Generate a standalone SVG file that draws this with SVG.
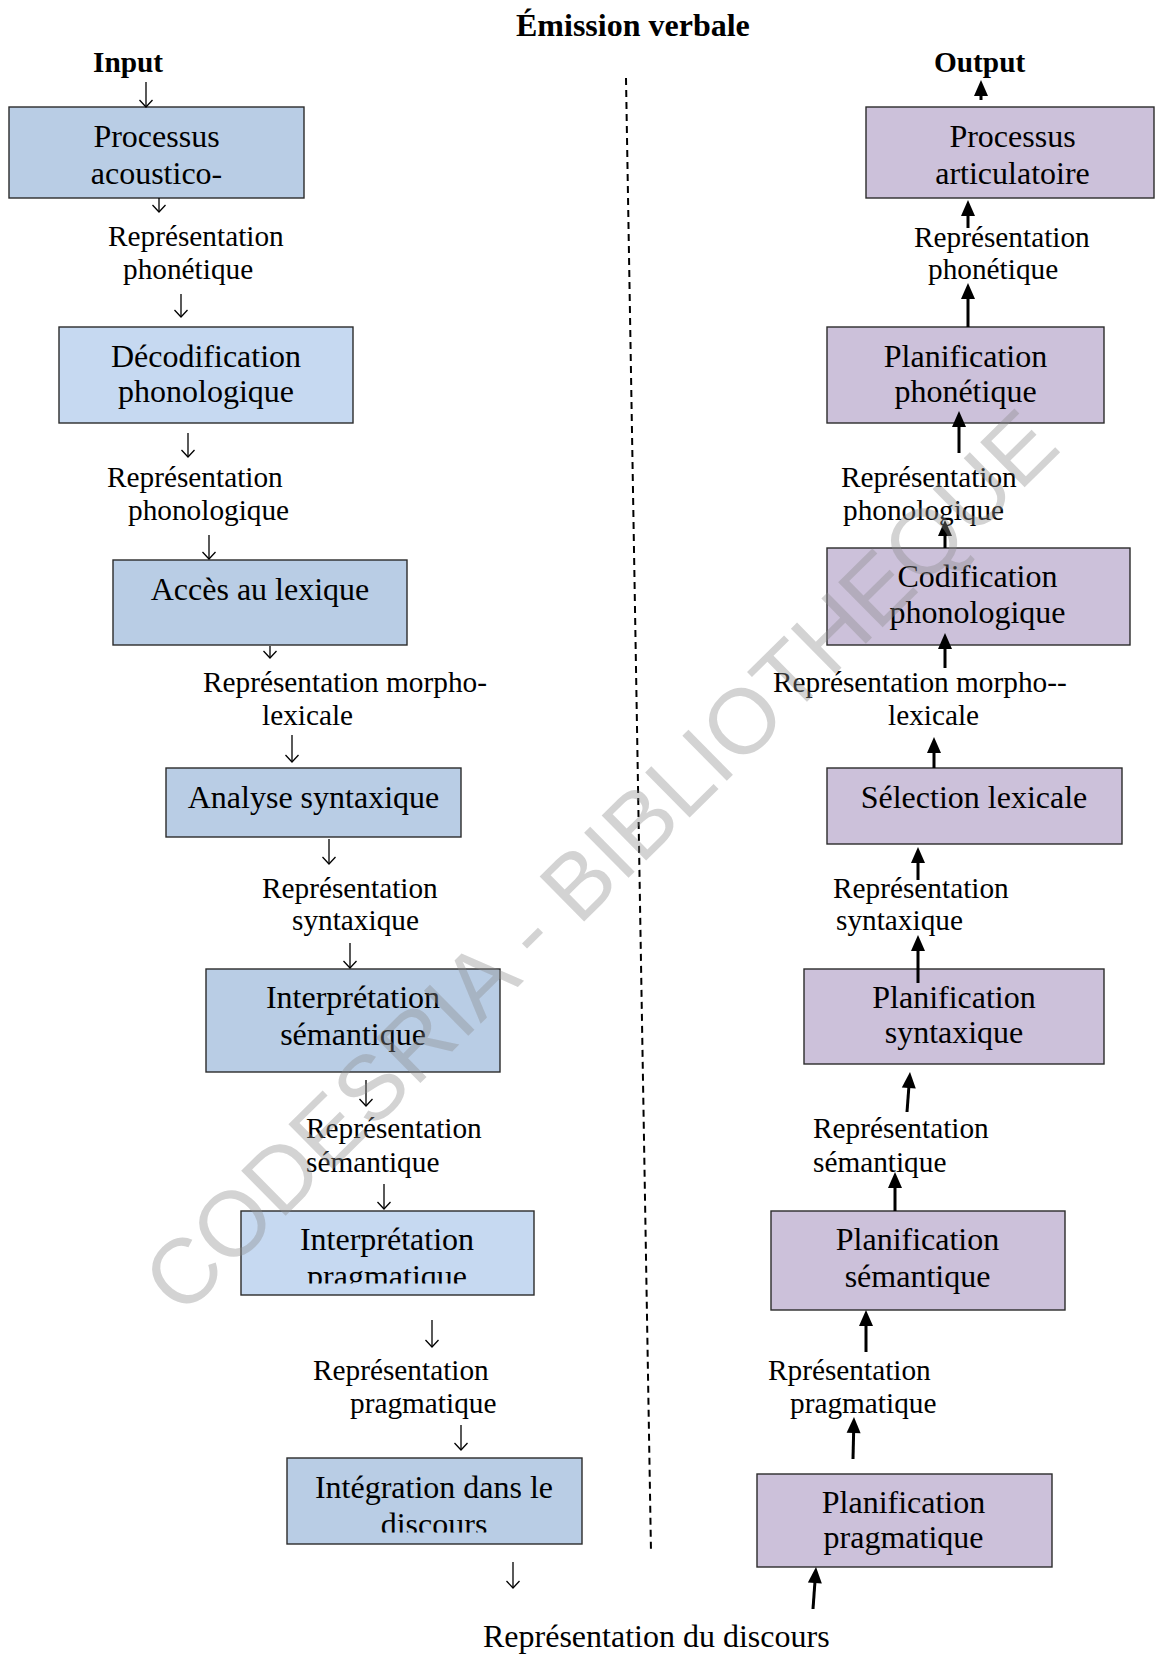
<svg xmlns="http://www.w3.org/2000/svg" width="1155" height="1655" viewBox="0 0 1155 1655">
<defs>
<style>
.t{font-family:"Liberation Serif","Times New Roman",serif;font-size:32px;fill:#000;text-anchor:middle}
.l{font-family:"Liberation Serif","Times New Roman",serif;font-size:29.3px;fill:#000}
.h{font-family:"Liberation Serif","Times New Roman",serif;font-weight:bold;fill:#000}
.bb{fill:#b9cde5;stroke:#2b2b2b;stroke-width:1.4}
.bl{fill:#c6d9f1;stroke:#2b2b2b;stroke-width:1.4}
.bp{fill:#ccc1da;stroke:#2b2b2b;stroke-width:1.4}
.thin{stroke:#000;stroke-width:1.3;fill:none;marker-end:url(#open)}
.thick{stroke:#000;stroke-width:3;fill:none;marker-end:url(#solid)}
.wm{font-family:"Liberation Sans",Arial,sans-serif;font-size:92px;fill:#8c8c8c;fill-opacity:0.38}
</style>
<marker id="open" markerUnits="userSpaceOnUse" orient="auto" viewBox="-9 -9 12 18" markerWidth="12" markerHeight="18" refX="0" refY="0" overflow="visible">
<path d="M-7,-6.5 L0,0 L-7,6.5" fill="none" stroke="#000" stroke-width="1.3"/>
</marker>
<marker id="solid" markerUnits="userSpaceOnUse" orient="auto" viewBox="-8 -8 20 16" markerWidth="20" markerHeight="16" refX="0" refY="0" overflow="visible">
<path d="M10,0 L-6,-7 L-6,7 Z" fill="#000"/>
</marker>
<clipPath id="c6"><rect x="241" y="1211" width="293" height="72.5"/></clipPath>
<clipPath id="c7"><rect x="287" y="1458" width="295" height="74.5"/></clipPath>
</defs>
<rect x="0" y="0" width="1155" height="1655" fill="#fff"/>

<text class="h" x="516" y="36" font-size="32">Émission verbale</text>
<text class="h" x="93" y="71.7" font-size="29.3">Input</text>
<text class="h" x="934" y="71.7" font-size="29.3">Output</text>

<g id="divider">
<path d="M626,78 L651,1552" stroke="#000" stroke-width="2" stroke-dasharray="7 5" fill="none"/>
</g>

<g id="n-processus-acoustico">
<rect class="bb" x="9" y="107" width="295" height="91"/>
<text class="t" x="156.5" y="146.7">Processus</text>
<text class="t" x="156.5" y="184">acoustico-</text>
</g>
<g id="n-decodification">
<rect class="bl" x="59" y="327" width="294" height="96"/>
<text class="t" x="206" y="366.7">Décodification</text>
<text class="t" x="206" y="401.7">phonologique</text>
</g>
<g id="n-acces-lexique">
<rect class="bb" x="113" y="560" width="294" height="85"/>
<text class="t" x="260" y="600">Accès au lexique</text>
</g>
<g id="n-analyse-syntaxique">
<rect class="bb" x="166" y="768" width="295" height="69"/>
<text class="t" x="313.5" y="808">Analyse syntaxique</text>
</g>
<g id="n-interpretation-semantique">
<rect class="bb" x="206" y="969" width="294" height="103"/>
<text class="t" x="353" y="1008">Interprétation</text>
<text class="t" x="353" y="1045">sémantique</text>
</g>
<g id="n-interpretation-pragmatique">
<rect class="bl" x="241" y="1211" width="293" height="84"/>
<text class="t" x="387" y="1250">Interprétation</text>
<text class="t" x="387" y="1287" clip-path="url(#c6)">pragmatique</text>
</g>
<g id="n-integration-discours">
<rect class="bb" x="287" y="1458" width="295" height="86"/>
<text class="t" x="434" y="1498">Intégration dans le</text>
<text class="t" x="434" y="1535" clip-path="url(#c7)">discours</text>
</g>

<g id="n-processus-articulatoire">
<rect class="bp" x="866" y="107" width="288" height="91"/>
<text class="t" x="1012.5" y="146.7">Processus</text>
<text class="t" x="1012.5" y="184">articulatoire</text>
</g>
<g id="n-planification-phonetique">
<rect class="bp" x="827" y="327" width="277" height="96"/>
<text class="t" x="965.5" y="366.7">Planification</text>
<text class="t" x="965.5" y="401.7">phonétique</text>
</g>
<g id="n-codification-phonologique">
<rect class="bp" x="827" y="548" width="303" height="97"/>
<text class="t" x="977.5" y="586.7">Codification</text>
<text class="t" x="977.5" y="623.3">phonologique</text>
</g>
<g id="n-selection-lexicale">
<rect class="bp" x="827" y="768" width="295" height="76"/>
<text class="t" x="974" y="808.3">Sélection lexicale</text>
</g>
<g id="n-planification-syntaxique">
<rect class="bp" x="804" y="969" width="300" height="95"/>
<text class="t" x="954" y="1008">Planification</text>
<text class="t" x="954" y="1043">syntaxique</text>
</g>
<g id="n-planification-semantique">
<rect class="bp" x="771" y="1211" width="294" height="99"/>
<text class="t" x="917.5" y="1250">Planification</text>
<text class="t" x="917.5" y="1286.7">sémantique</text>
</g>
<g id="n-planification-pragmatique">
<rect class="bp" x="757" y="1474" width="295" height="93"/>
<text class="t" x="903.5" y="1513.3">Planification</text>
<text class="t" x="903.5" y="1548.3">pragmatique</text>
</g>

<g id="labels">
<text class="l" x="108" y="246">Représentation</text>
<text class="l" x="123" y="279">phonétique</text>
<text class="l" x="107" y="487">Représentation</text>
<text class="l" x="128" y="520">phonologique</text>
<text class="l" x="203" y="692">Représentation morpho-</text>
<text class="l" x="262" y="725">lexicale</text>
<text class="l" x="262" y="898">Représentation</text>
<text class="l" x="292" y="930">syntaxique</text>
<text class="l" x="306" y="1138">Représentation</text>
<text class="l" x="306" y="1172">sémantique</text>
<text class="l" x="313" y="1380">Représentation</text>
<text class="l" x="350" y="1413">pragmatique</text>
<text class="t" x="483" y="1647" style="text-anchor:start">Représentation du discours</text>

<text class="l" x="914" y="247">Représentation</text>
<text class="l" x="928" y="279">phonétique</text>
<text class="l" x="841" y="487">Représentation</text>
<text class="l" x="843" y="520">phonologique</text>
<text class="l" x="773" y="692">Représentation morpho--</text>
<text class="l" x="888" y="725">lexicale</text>
<text class="l" x="833" y="898">Représentation</text>
<text class="l" x="836" y="930">syntaxique</text>
<text class="l" x="813" y="1138">Représentation</text>
<text class="l" x="813" y="1172">sémantique</text>
<text class="l" x="768" y="1380">Rprésentation</text>
<text class="l" x="790" y="1413">pragmatique</text>
</g>

<g id="connectors">
<path class="thin" d="M146,82 L146,107"/>
<path class="thin" d="M159,198 L159,212"/>
<path class="thin" d="M181,294 L181,317"/>
<path class="thin" d="M188,433 L188,457"/>
<path class="thin" d="M209,535 L209,559"/>
<path class="thin" d="M270,646 L270,658"/>
<path class="thin" d="M292,735 L292,762"/>
<path class="thin" d="M329,839 L329,864"/>
<path class="thin" d="M350,943 L350,968"/>
<path class="thin" d="M366,1080 L366,1106"/>
<path class="thin" d="M384,1184 L384,1209"/>
<path class="thin" d="M432,1320 L432,1347"/>
<path class="thin" d="M461,1425 L461,1450"/>
<path class="thin" d="M513,1562 L513,1588"/>

<path class="thick" d="M981,100 L981,90"/>
<path class="thick" d="M968,228 L968,210"/>
<path class="thick" d="M968,327 L968,293"/>
<path class="thick" d="M959,453 L959,421"/>
<path class="thick" d="M945,548 L945,530"/>
<path class="thick" d="M945,668 L945,643"/>
<path class="thick" d="M934,768 L934,747"/>
<path class="thick" d="M918,880 L918,857"/>
<path class="thick" d="M918,983 L918,945"/>
<path class="thick" d="M907,1112 L909.25,1082"/>
<path class="thick" d="M895,1211 L895,1182"/>
<path class="thick" d="M866,1352 L866,1320"/>
<path class="thick" d="M853,1459 L853.76,1427"/>
<path class="thick" d="M813,1609 L815.3,1577"/>
</g>

<g id="watermark">
<text class="wm" transform="translate(182,1318) rotate(-44.6)">CODESRIA - BIBLIOTHEQUE</text>
</g>
</svg>
